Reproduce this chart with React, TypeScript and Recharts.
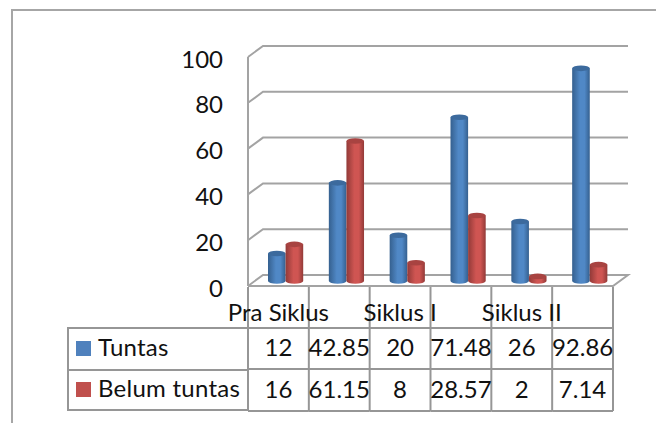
import React from 'react';
import { ComposedChart, Bar, XAxis, YAxis, CartesianGrid, Legend } from 'recharts';

const columns = ['Pra Siklus', 'Pra Siklus %', 'Siklus I', 'Siklus I %', 'Siklus II', 'Siklus II %'];
const columnLabels = ['Pra Siklus', '', 'Siklus I', '', 'Siklus II', ''];
const tuntas = [12, 42.85, 20, 71.48, 26, 92.86];
const belumTuntas = [16, 61.15, 8, 28.57, 2, 7.14];
const yTicks = [0, 20, 40, 60, 80, 100];

const data = columns.map((col, i) => ({ col, tuntas: tuntas[i], belum: belumTuntas[i] }));

const FONT = 'Lato, Carlito, "Open Sans", sans-serif';
const GRID = '#a3a3a3';
const TABLE = '#969696';
const TEXT = '#111111';
const BLUE = '#4f81bd';
const RED = '#c0504d';

const Cylinder = ({ x, y, width, height, id, edge, mid, cap }: any) => {
  const dx = 7;
  const dy = -5;
  const ry = 2.8;
  const rx = width / 2;
  const left = x + dx;
  const right = left + width;
  const top = y + dy;
  const bottom = y + height + dy;
  return (
    <g>
      <defs>
        <linearGradient id={id} x1="0" y1="0" x2="1" y2="0">
          <stop offset="0%" stopColor={edge} />
          <stop offset="45%" stopColor={mid} />
          <stop offset="70%" stopColor={mid} />
          <stop offset="100%" stopColor={edge} />
        </linearGradient>
      </defs>
      <path
        d={`M${left},${top} L${left},${bottom} A${rx},${ry} 0 0 0 ${right},${bottom} L${right},${top} Z`}
        fill={`url(#${id})`}
      />
      <ellipse cx={left + rx} cy={top} rx={rx} ry={ry} fill={cap} />
    </g>
  );
};

const BlueBar = (p: any) => <Cylinder {...p} id={`blue-${p.index}`} edge="#35608f" mid="#5088c6" cap="#3c6a9d" />;
const RedBar = (p: any) => <Cylinder {...p} id={`red-${p.index}`} edge="#923a38" mid="#cf5552" cap="#a84341" />;

const GridLine = ({ x1, y1, x2, index }: any) => {
  const bx = 15;
  const by = -11;
  const isFloor = Math.abs(y1 - 286) < 1;
  return (
    <g key={`g-${index}-${y1}`}>
      <polyline
        points={`${x1},${y1} ${x1 + bx},${y1 + by} ${x2 + bx},${y1 + by}${isFloor ? ` ${x2},${y1} ${x1},${y1}` : ''}`}
        fill="none"
        stroke={GRID}
        strokeWidth={2}
      />
    </g>
  );
};

const TableTick = ({ x, y, payload, index, width }: any) => {
  const i = payload.index ?? index;
  const w = width / columns.length;
  const left = x - w / 2;
  const right = x + w / 2;
  const t = y;
  const textProps = { fontFamily: FONT, fontSize: 24, fill: TEXT, textAnchor: 'middle' as const };
  return (
    <g>
      {i === 0 && <line x1={left} x2={left} y1={t + 1} y2={t + 125} stroke={TABLE} strokeWidth={2} />}
      <line x1={right} x2={right} y1={t + 1} y2={t + 125} stroke={TABLE} strokeWidth={2} />
      <line x1={left} x2={right} y1={t + 42} y2={t + 42} stroke={TABLE} strokeWidth={2} />
      <line x1={left} x2={right} y1={t + 83} y2={t + 83} stroke={TABLE} strokeWidth={2} />
      <line x1={left} x2={right} y1={t + 125} y2={t + 125} stroke={TABLE} strokeWidth={2} />
      <text x={x} y={t + 35} {...textProps}>{columnLabels[i]}</text>
      <text x={x} y={t + 70} {...textProps}>{tuntas[i]}</text>
      <text x={x} y={t + 112} {...textProps}>{belumTuntas[i]}</text>
    </g>
  );
};

const LegendTable = ({ payload }: any) => (
  <div style={{ width: 181, height: 84, border: `2px solid ${TABLE}`, borderRight: 'none', boxSizing: 'border-box', fontFamily: FONT, fontSize: 24, letterSpacing: 0.25, color: TEXT, textAlign: 'left' }}>
    {(payload || []).map((item: any, i: number) => (
      <div
        key={item.value}
        style={{ height: 40, display: 'flex', alignItems: 'center', borderTop: i ? `2px solid ${TABLE}` : 'none', boxSizing: 'border-box', paddingLeft: 7 }}
      >
        <span style={{ width: 15, height: 15, background: item.color, marginRight: 7, marginTop: -1, flex: 'none' }} />
        <span style={{ whiteSpace: 'nowrap', marginTop: -5 }}>{item.value}</span>
      </div>
    ))}
  </div>
);

export default function App() {
  return (
    <div style={{ position: 'absolute', left: 0, top: 0, width: 657, height: 423, background: '#fff', overflow: 'hidden' }}>
      <div style={{ position: 'absolute', left: 11, top: 9, right: 1, bottom: -4, borderLeft: '2px solid #a6a6a6', borderTop: '2px solid #a6a6a6' }} />
      <div style={{ position: 'absolute', left: 0, top: 0 }}>
        <ComposedChart
          width={657}
          height={423}
          data={data}
          barSize={17.6}
          barGap={0}
          margin={{ top: 57, right: 44, bottom: 0, left: 0 }}
        >
          <CartesianGrid vertical={false} horizontal={GridLine as any} />
          <XAxis
            dataKey="col"
            interval={0}
            height={137}
            axisLine={false}
            tickLine={false}
            tickSize={0}
            tickMargin={0}
            tick={<TableTick />}
          />
          <YAxis
            domain={[0, 100]}
            ticks={yTicks}
            width={248}
            axisLine={{ stroke: GRID, strokeWidth: 2 }}
            tickLine={false}
            tickSize={0}
            tickMargin={25}
            dy={2}
            tick={{ fontFamily: FONT, fontSize: 24, fill: TEXT }}
          />
          <Legend
            layout="horizontal"
            verticalAlign="middle"
            align="center"
            itemSorter={null}
            wrapperStyle={{ left: 67, top: 327, width: 181, height: 84 }}
            content={<LegendTable />}
          />
          <Bar dataKey="tuntas" name="Tuntas" fill={BLUE} isAnimationActive={false} shape={BlueBar} />
          <Bar dataKey="belum" name="Belum tuntas" fill={RED} isAnimationActive={false} shape={RedBar} />
        </ComposedChart>
      </div>
    </div>
  );
}
